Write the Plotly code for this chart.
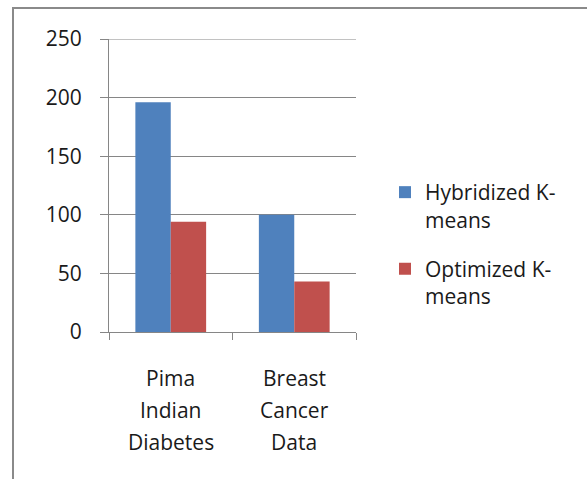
import plotly.graph_objects as go

# Data
categories = ["Pima Indian Diabetes", "Breast Cancer Data"]
category_lines = [["Pima", "Indian", "Diabetes"], ["Breast", "Cancer", "Data"]]
series_names = ["Hybridized K-<br>means", "Optimized K-<br>means"]
hybridized = [196, 100]
optimized = [94, 43]
y_ticks = [0, 50, 100, 150, 200, 250]

colors = ["#4F81BD", "#C0504D"]
grid = "#868686"
font_family = "Open Sans, DejaVu Sans, sans-serif"
text_color = "#1a1a1a"

W, H = 587, 479
L, R, T, B = 109, 231, 39, 147
pw, ph = W - L - R, H - T - B

fig = go.Figure()
for i, (name, vals) in enumerate(zip(series_names, [hybridized, optimized])):
    fig.add_trace(go.Bar(
        x=categories, y=vals, name=name,
        marker=dict(color=colors[i], line=dict(width=0)),
        legendgroup=f"g{i}",
    ))

# category labels, one line per annotation for wider line spacing
line_gap = 32
for cat, lines in zip(categories, category_lines):
    for k, txt in enumerate(lines):
        fig.add_annotation(
            x=cat, xref="x", y=0, yref="paper",
            text=txt, showarrow=False,
            xanchor="center", yanchor="middle",
            yshift=-(46 + k * line_gap),
            font=dict(family=font_family, size=21, color=text_color),
        )

# gridline at the top of the value range
fig.add_shape(
    type="line", xref="paper", yref="y",
    x0=0, x1=1, y0=y_ticks[-1], y1=y_ticks[-1],
    line=dict(color=grid, width=1), layer="below",
)

# outer chart frame (cropped at right and bottom)
fig.add_shape(
    type="rect", xref="paper", yref="paper",
    x0=(13 - L) / pw, x1=(W + 20 - L) / pw,
    y0=-(H + 20 - T - ph) / ph, y1=(T + ph - 8) / ph,
    line=dict(color="#8a8a8a", width=2), fillcolor="rgba(0,0,0,0)",
)

fig.update_layout(
    width=W, height=H,
    margin=dict(l=L, r=R, t=T, b=B),
    paper_bgcolor="white", plot_bgcolor="white",
    barmode="group", bargap=0.427, bargroupgap=0,
    font=dict(family=font_family, size=21, color=text_color),
    showlegend=True,
    legend=dict(
        x=(385 - L) / pw, xanchor="left",
        y=(T + ph - 172) / ph, yanchor="top",
        valign="top", tracegroupgap=19,
        font=dict(size=21), bgcolor="rgba(0,0,0,0)",
    ),
    xaxis=dict(
        showline=True, linecolor=grid, linewidth=1,
        ticks="outside", tickson="boundaries", ticklen=7, tickcolor=grid,
        showgrid=False, showticklabels=False,
    ),
    yaxis=dict(
        range=[0, 250], tickvals=y_ticks,
        showline=True, linecolor=grid, linewidth=1,
        showgrid=True, gridcolor=grid, gridwidth=1,
        ticks="outside", ticklen=8, tickcolor=grid,
        ticklabelstandoff=14, zeroline=False,
    ),
)

fig.write_html("out.html")
